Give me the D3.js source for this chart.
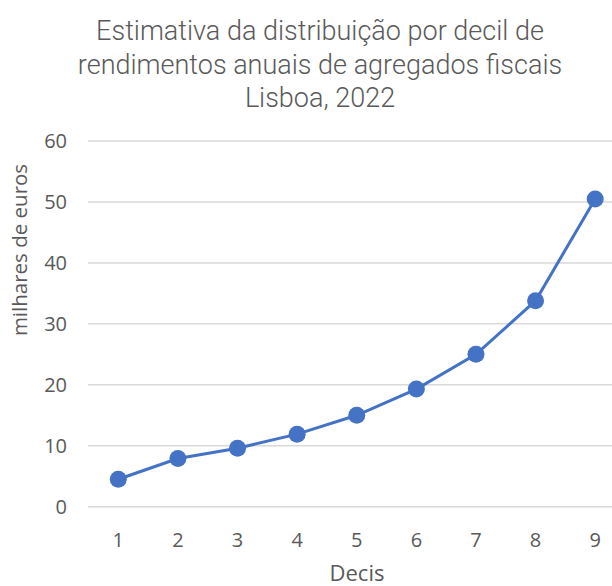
<!DOCTYPE html>
<html>
<head>
<meta charset="utf-8">
<script src="https://cdn.jsdelivr.net/npm/d3@7"></script>
<style>
  body { margin: 0; background: #fff; }
  svg { display: block; }
</style>
</head>
<body>
<svg id="chart"></svg>
<script>
// data
const decis = ["1", "2", "3", "4", "5", "6", "7", "8", "9"];
const valores = [4.5, 7.9, 9.6, 11.9, 15.0, 19.3, 25.0, 33.8, 50.5];
const yTicks = [0, 10, 20, 30, 40, 50, 60];
const titleLines = [
    "Estimativa da distribuição por decil de",
    "rendimentos anuais de agregados fiscais",
    "Lisboa, 2022"
];

const width = 612, height = 586;
const svg = d3.select("#chart")
    .attr("width", width)
    .attr("height", height);

const font = "'Segoe UI', 'Open Sans', 'Noto Sans', sans-serif";
const textColor = "#595959";

const x = d3.scaleBand()
    .domain(decis)
    .range([88.5, 625]);

const y = d3.scaleLinear()
    .domain([0, 60])
    .range([506.7, 141]);

// gridlines
svg.append("g")
    .selectAll("line")
    .data(yTicks)
    .join("line")
    .attr("x1", 88)
    .attr("x2", width)
    .attr("y1", d => y(d))
    .attr("y2", d => y(d))
    .attr("stroke", "#d9d9d9")
    .attr("stroke-width", 1.5);

// y tick labels
svg.append("g")
    .selectAll("text")
    .data(yTicks)
    .join("text")
    .attr("x", 67)
    .attr("y", d => y(d))
    .attr("dy", "0.35em")
    .attr("text-anchor", "end")
    .attr("font-family", font)
    .attr("font-size", 20)
    .attr("fill", textColor)
    .text(d => d);

// x tick labels
svg.append("g")
    .selectAll("text")
    .data(decis)
    .join("text")
    .attr("x", d => x(d) + x.bandwidth() / 2)
    .attr("y", 547)
    .attr("text-anchor", "middle")
    .attr("font-family", font)
    .attr("font-size", 20)
    .attr("fill", textColor)
    .text(d => d);

// axis titles
svg.append("text")
    .attr("x", 357)
    .attr("y", 581)
    .attr("text-anchor", "middle")
    .attr("font-family", font)
    .attr("font-size", 22)
    .attr("fill", textColor)
    .text("Decis");

svg.append("text")
    .attr("transform", "translate(27, 250) rotate(-90)")
    .attr("text-anchor", "middle")
    .attr("font-family", font)
    .attr("font-size", 20.5)
    .attr("fill", textColor)
    .text("milhares de euros");

// title
svg.append("g")
    .selectAll("text")
    .data(titleLines)
    .join("text")
    .attr("x", 320)
    .attr("y", (d, i) => 40 + i * 33.5)
    .attr("text-anchor", "middle")
    .attr("font-family", "Roboto, 'Open Sans', sans-serif")
    .attr("font-weight", 300)
    .attr("font-size", 27)
    .attr("fill", textColor)
    .text(d => d);

// line + markers
const pts = decis.map((d, i) => ({ k: d, v: valores[i] }));
const line = d3.line()
    .x(d => x(d.k) + x.bandwidth() / 2)
    .y(d => y(d.v));

svg.append("path")
    .datum(pts)
    .attr("d", line)
    .attr("fill", "none")
    .attr("stroke", "#4472C4")
    .attr("stroke-width", 3);

svg.append("g")
    .selectAll("circle")
    .data(pts)
    .join("circle")
    .attr("cx", d => x(d.k) + x.bandwidth() / 2)
    .attr("cy", d => y(d.v))
    .attr("r", 8.5)
    .attr("fill", "#4472C4");
</script>
</body>
</html>
